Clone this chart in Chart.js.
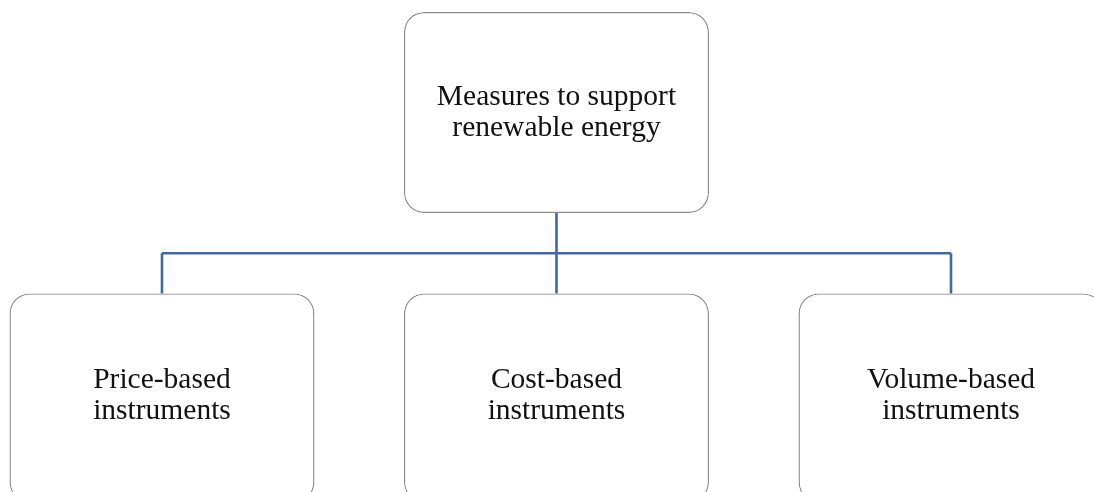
<!DOCTYPE html>
<html>
<head>
<meta charset="utf-8">
<script src="https://cdn.jsdelivr.net/npm/chart.js@4.4.1/dist/chart.umd.min.js"></script>
<style>
  html, body { margin: 0; padding: 0; background: #fff; }
  #wrap { width: 1094px; height: 492px; position: relative; }
</style>
</head>
<body>
<div id="wrap"><canvas id="tree"></canvas></div>
<script>
// tree content
const rootLabel = ["Measures to support", "renewable energy"];
const childLabels = [
  ["Price-based", "instruments"],
  ["Cost-based", "instruments"],
  ["Volume-based", "instruments"]
];
const rootColumn = 1;
const childColumns = [0, 1, 2];

// layout in axis units: one column per child, one row span per level
const ROOT_SPAN = [0, 1];
const CHILD_SPAN = [1.4, 2.44];
const ELBOW_LEVEL = 1.2;

const COLORS = {
  border: "#8c8c8c",
  link: "#4467a6",
  text: "#111111"
};
const FONT = '29.5px "Liberation Serif", "Times New Roman", serif';

const treePlugin = {
  id: "tree",
  beforeDatasetsDraw(chart) {
    const ctx = chart.ctx;
    const root = chart.getDatasetMeta(0).data[0];
    const kids = chart.getDatasetMeta(1).data;
    const yElbow = chart.scales.y.getPixelForValue(ELBOW_LEVEL);
    const rootBottom = Math.max(root.y, root.base);
    ctx.save();
    ctx.strokeStyle = COLORS.link;
    ctx.lineWidth = 2.6;
    ctx.beginPath();
    ctx.moveTo(root.x, rootBottom);
    ctx.lineTo(root.x, yElbow);
    ctx.moveTo(kids[0].x, yElbow);
    ctx.lineTo(kids[kids.length - 1].x, yElbow);
    kids.forEach(k => {
      ctx.moveTo(k.x, yElbow);
      ctx.lineTo(k.x, Math.min(k.y, k.base));
    });
    ctx.stroke();
    ctx.restore();
  },
  afterDatasetsDraw(chart) {
    const ctx = chart.ctx;
    ctx.save();
    ctx.font = FONT;
    ctx.fillStyle = COLORS.text;
    ctx.textAlign = "center";
    ctx.textBaseline = "middle";
    const put = (el, lines, dy) => {
      const cy = (el.y + el.base) / 2 + dy;
      const lh = 31;
      lines.forEach((t, i) => ctx.fillText(t, el.x, cy + (i - (lines.length - 1) / 2) * lh));
    };
    put(chart.getDatasetMeta(0).data[0], rootLabel, 0);
    chart.getDatasetMeta(1).data.forEach((el, i) => put(el, childLabels[i], -2));
    ctx.restore();
  }
};

function boxSeries(label, data) {
  return {
    label,
    data,
    backgroundColor: "#ffffff",
    borderColor: COLORS.border,
    borderWidth: 1.4,
    borderSkipped: false,
    borderRadius: 20,
    inflateAmount: 0,
    barThickness: 305,
    grouped: false
  };
}

new Chart(document.getElementById("tree"), {
  type: "bar",
  data: {
    datasets: [
      boxSeries("root", [{ x: rootColumn, y: ROOT_SPAN }]),
      boxSeries("children", childColumns.map(c => ({ x: c, y: CHILD_SPAN })))
    ]
  },
  options: {
    responsive: true,
    maintainAspectRatio: false,
    animation: false,
    events: [],
    layout: { padding: 0 },
    plugins: { legend: { display: false }, tooltip: { enabled: false } },
    scales: {
      x: { type: "linear", display: false, offset: false, min: -0.4106, max: 2.3625 },
      y: { type: "linear", display: false, reverse: true, min: -0.0597, max: 2.388 }
    }
  },
  plugins: [treePlugin]
});
</script>
</body>
</html>
